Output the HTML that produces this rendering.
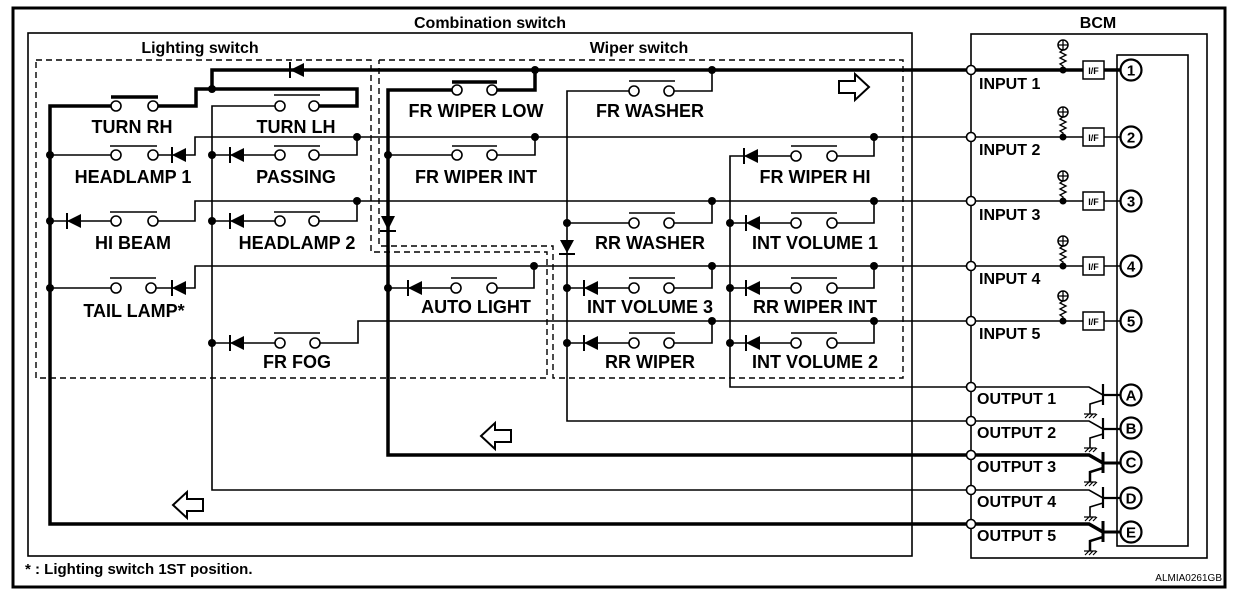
<!DOCTYPE html>
<html><head><meta charset="utf-8"><style>
html,body{margin:0;padding:0;background:#fff;}
svg{display:block;}
text{font-family:"Liberation Sans",Arial,sans-serif;fill:#000;}
.l{font-size:18px;font-weight:bold;text-anchor:middle;}
.io{font-size:16px;font-weight:bold;}
.tk{stroke:#000;stroke-width:3.5;fill:none;}
.tn{stroke:#000;stroke-width:1.6;fill:none;}
.ds{stroke:#000;stroke-width:1.4;fill:none;stroke-dasharray:6,4;}
.c{fill:#fff;stroke:#000;stroke-width:1.6;}
.d{fill:#000;}
</style></head><body>
<svg width="1248" height="600" viewBox="0 0 1248 600" xmlns="http://www.w3.org/2000/svg">
<rect x="13" y="8" width="1212" height="579" fill="none" stroke="#000" stroke-width="3"/>
<rect x="28" y="33" width="884" height="523" class="tn"/>
<rect x="971" y="34" width="236" height="524" class="tn"/>
<rect x="1117" y="55" width="71" height="491" class="tn"/>
<text x="490" y="28" style="font-size:16px;font-weight:bold" text-anchor="middle">Combination switch</text>
<text x="1098" y="28" style="font-size:16px;font-weight:bold" text-anchor="middle">BCM</text>
<text x="200" y="53" style="font-size:16px;font-weight:bold" text-anchor="middle">Lighting switch</text>
<text x="639" y="53" style="font-size:16px;font-weight:bold" text-anchor="middle">Wiper switch</text>
<!-- dashed boxes -->
<polyline class="ds" points="36,60 371,60 371,252 547,252 547,378 36,378 36,60"/>
<polyline class="ds" points="379,60 903,60 903,378 553,378 553,246 379,246 379,60"/>

<!-- thick wires -->
<polyline class="tk" points="971,70 212,70 212,89"/>
<polyline class="tk" points="212,89 357,89 357,106 319,106"/>
<polyline class="tk" points="212,89 196,89 196,106 158,106"/>
<polyline class="tk" points="111,106 50,106 50,524 971,524"/>
<polyline class="tk" points="535,70 535,90 497,90"/>
<polyline class="tk" points="452,90 388,90 388,455 971,455"/>
<!-- thin wires -->
<polyline class="tn" points="275,106 212,106 212,490 971,490"/>
<polyline class="tn" points="971,137 195,137 195,155 158,155"/>
<polyline class="tn" points="111,155 50,155"/>
<polyline class="tn" points="357,137 357,155 319,155"/>
<polyline class="tn" points="275,155 212,155"/>
<polyline class="tn" points="535,137 535,155 497,155"/>
<polyline class="tn" points="452,155 388,155"/>
<polyline class="tn" points="874,137 874,156 837,156"/>
<polyline class="tn" points="791,156 730,156 730,387 971,387"/>
<polyline class="tn" points="971,201 195,201 195,221 158,221"/>
<polyline class="tn" points="111,221 50,221"/>
<polyline class="tn" points="357,201 357,221 319,221"/>
<polyline class="tn" points="275,221 212,221"/>
<polyline class="tn" points="712,201 712,223 674,223"/>
<polyline class="tn" points="629,223 567,223"/>
<polyline class="tn" points="874,201 874,223 837,223"/>
<polyline class="tn" points="791,223 730,223"/>
<polyline class="tn" points="712,70 712,91 674,91"/>
<polyline class="tn" points="629,91 567,91 567,421 971,421"/>
<polyline class="tn" points="971,266 195,266 195,288 156,288"/>
<polyline class="tn" points="111,288 50,288"/>
<polyline class="tn" points="534,266 534,288 497,288"/>
<polyline class="tn" points="451,288 388,288"/>
<polyline class="tn" points="712,266 712,288 674,288"/>
<polyline class="tn" points="629,288 567,288"/>
<polyline class="tn" points="874,266 874,288 837,288"/>
<polyline class="tn" points="791,288 730,288"/>
<polyline class="tn" points="971,321 358,321 358,343 320,343"/>
<polyline class="tn" points="275,343 212,343"/>
<polyline class="tn" points="712,321 712,343 674,343"/>
<polyline class="tn" points="629,343 567,343"/>
<polyline class="tn" points="874,321 874,343 837,343"/>
<polyline class="tn" points="791,343 730,343"/>

<!-- switches -->
<g class="c">
<circle cx="116" cy="106" r="5"/><circle cx="153" cy="106" r="5"/>
<circle cx="280" cy="106" r="5"/><circle cx="314" cy="106" r="5"/>
<circle cx="116" cy="155" r="5"/><circle cx="153" cy="155" r="5"/>
<circle cx="280" cy="155" r="5"/><circle cx="314" cy="155" r="5"/>
<circle cx="116" cy="221" r="5"/><circle cx="153" cy="221" r="5"/>
<circle cx="280" cy="221" r="5"/><circle cx="314" cy="221" r="5"/>
<circle cx="116" cy="288" r="5"/><circle cx="151" cy="288" r="5"/>
<circle cx="280" cy="343" r="5"/><circle cx="315" cy="343" r="5"/>
<circle cx="457" cy="90" r="5"/><circle cx="492" cy="90" r="5"/>
<circle cx="457" cy="155" r="5"/><circle cx="492" cy="155" r="5"/>
<circle cx="456" cy="288" r="5"/><circle cx="492" cy="288" r="5"/>
<circle cx="634" cy="91" r="5"/><circle cx="669" cy="91" r="5"/>
<circle cx="634" cy="223" r="5"/><circle cx="669" cy="223" r="5"/>
<circle cx="634" cy="288" r="5"/><circle cx="669" cy="288" r="5"/>
<circle cx="634" cy="343" r="5"/><circle cx="669" cy="343" r="5"/>
<circle cx="796" cy="156" r="5"/><circle cx="832" cy="156" r="5"/>
<circle cx="796" cy="223" r="5"/><circle cx="832" cy="223" r="5"/>
<circle cx="796" cy="288" r="5"/><circle cx="832" cy="288" r="5"/>
<circle cx="796" cy="343" r="5"/><circle cx="832" cy="343" r="5"/>
</g>
<g class="tn">
<path d="M111,97H158" style="stroke-width:3.5"/>
<path d="M452,82H497" style="stroke-width:3.5"/>
<path d="M274,95H320M110,146H157M274,146H320M110,212H157M274,212H320M110,278H156M274,333H320M452,146H497M451,278H497M629,81H675M629,213H675M629,278H675M629,333H675M791,146H837M791,213H837M791,278H837M791,333H837"/>
</g>

<!-- diodes (pointing left) -->
<g class="d">
<path d="M290,70L304,63V77Z"/><path d="M172,155L186,148V162Z"/><path d="M230,155L244,148V162Z"/>
<path d="M67,221L81,214V228Z"/><path d="M230,221L244,214V228Z"/><path d="M172,288L186,281V295Z"/>
<path d="M230,343L244,336V350Z"/><path d="M408,288L422,281V295Z"/><path d="M584,288L598,281V295Z"/>
<path d="M584,343L598,336V350Z"/><path d="M744,156L758,149V163Z"/><path d="M746,223L760,216V230Z"/>
<path d="M746,288L760,281V295Z"/><path d="M746,343L760,336V350Z"/>
<!-- down diodes -->
<path d="M381,216H395L388,230Z"/><path d="M560,240H574L567,253Z"/>
</g>
<g class="tn" style="stroke-width:2">
<path d="M290,62V78M172,147V163M230,147V163M67,213V229M230,213V229M172,280V296M230,335V351M408,280V296M584,280V296M584,335V351M744,148V164M746,215V231M746,280V296M746,335V351M380,231H396M559,254H575"/>
</g>

<!-- dots -->
<g class="d">
<circle cx="212" cy="89" r="4"/><circle cx="535" cy="70" r="4"/><circle cx="712" cy="70" r="4"/>
<circle cx="357" cy="137" r="4"/><circle cx="535" cy="137" r="4"/><circle cx="874" cy="137" r="4"/>
<circle cx="50" cy="155" r="4"/><circle cx="212" cy="155" r="4"/><circle cx="388" cy="155" r="4"/>
<circle cx="357" cy="201" r="4"/><circle cx="712" cy="201" r="4"/><circle cx="874" cy="201" r="4"/>
<circle cx="50" cy="221" r="4"/><circle cx="212" cy="221" r="4"/><circle cx="567" cy="223" r="4"/><circle cx="730" cy="223" r="4"/>
<circle cx="534" cy="266" r="4"/><circle cx="712" cy="266" r="4"/><circle cx="874" cy="266" r="4"/>
<circle cx="50" cy="288" r="4"/><circle cx="388" cy="288" r="4"/><circle cx="567" cy="288" r="4"/><circle cx="730" cy="288" r="4"/>
<circle cx="712" cy="321" r="4"/><circle cx="874" cy="321" r="4"/>
<circle cx="212" cy="343" r="4"/><circle cx="567" cy="343" r="4"/><circle cx="730" cy="343" r="4"/>
</g>

<!-- labels -->
<text class="l" x="132" y="133">TURN RH</text>
<text class="l" x="296" y="133">TURN LH</text>
<text class="l" x="133" y="183">HEADLAMP 1</text>
<text class="l" x="296" y="183">PASSING</text>
<text class="l" x="133" y="249">HI BEAM</text>
<text class="l" x="297" y="249">HEADLAMP 2</text>
<text class="l" x="134" y="317">TAIL LAMP*</text>
<text class="l" x="297" y="368">FR FOG</text>
<text class="l" x="476" y="117">FR WIPER LOW</text>
<text class="l" x="650" y="117">FR WASHER</text>
<text class="l" x="476" y="183">FR WIPER INT</text>
<text class="l" x="815" y="183">FR WIPER HI</text>
<text class="l" x="650" y="249">RR WASHER</text>
<text class="l" x="815" y="249">INT VOLUME 1</text>
<text class="l" x="476" y="313">AUTO LIGHT</text>
<text class="l" x="650" y="313">INT VOLUME 3</text>
<text class="l" x="815" y="313">RR WIPER INT</text>
<text class="l" x="650" y="368">RR WIPER</text>
<text class="l" x="815" y="368">INT VOLUME 2</text>

<!-- flow arrows -->
<g fill="#fff" stroke="#000" stroke-width="2">
<polygon points="839,81 855,81 855,74 869,87 855,100 855,93 839,93"/>
<polygon points="511,430 495,430 495,423 481,436 495,449 495,442 511,442"/>
<polygon points="203,499 187,499 187,492 173,505 187,518 187,511 203,511"/>
</g>

<!-- BCM inputs -->
<g>
<polyline class="tk" points="971,70 1122,70"/>
<polyline class="tn" points="971,137 1122,137"/>
<polyline class="tn" points="971,201 1122,201"/>
<polyline class="tn" points="971,266 1122,266"/>
<polyline class="tn" points="971,321 1122,321"/>
</g>
<g class="c">
<circle cx="971" cy="70" r="4.5"/><circle cx="971" cy="137" r="4.5"/><circle cx="971" cy="201" r="4.5"/>
<circle cx="971" cy="266" r="4.5"/><circle cx="971" cy="321" r="4.5"/>
<circle cx="971" cy="387" r="4.5"/><circle cx="971" cy="421" r="4.5"/><circle cx="971" cy="455" r="4.5"/>
<circle cx="971" cy="490" r="4.5"/><circle cx="971" cy="524" r="4.5"/>
</g>
<g id="pu">
<circle cx="1063" cy="70" r="3.5" class="d"/>
<polyline class="tn" style="stroke-width:1.3" points="1063,70 1063,66 1060,64 1066,61 1060,58 1066,55 1060,52 1063,50 1063,49"/>
<circle cx="1063" cy="45" r="5" fill="#fff" stroke="#000" stroke-width="1.5"/>
<path d="M1058,45H1068M1063,40V50" stroke="#000" stroke-width="1.3"/>
<rect x="1083" y="61" width="21" height="18" fill="#fff" stroke="#000" stroke-width="1.5"/>
<text x="1093.5" y="74" style="font-size:9px;font-weight:bold" text-anchor="middle">I/F</text>
</g>
<use href="#pu" y="67"/><use href="#pu" y="131"/><use href="#pu" y="196"/><use href="#pu" y="251"/>
<g fill="#fff" stroke="#000" stroke-width="2.2">
<circle cx="1131" cy="70" r="10.5"/><circle cx="1131" cy="137" r="10.5"/><circle cx="1131" cy="201" r="10.5"/>
<circle cx="1131" cy="266" r="10.5"/><circle cx="1131" cy="321" r="10.5"/>
<circle cx="1131" cy="395" r="10.5"/><circle cx="1131" cy="428" r="10.5"/><circle cx="1131" cy="462" r="10.5"/>
<circle cx="1131" cy="498" r="10.5"/><circle cx="1131" cy="532" r="10.5"/>
</g>
<g style="font-size:15px;font-weight:bold" text-anchor="middle">
<text x="1131" y="75.5">1</text><text x="1131" y="142.5">2</text><text x="1131" y="206.5">3</text>
<text x="1131" y="271.5">4</text><text x="1131" y="326.5">5</text>
<text x="1131" y="400.5">A</text><text x="1131" y="433.5">B</text><text x="1131" y="467.5">C</text>
<text x="1131" y="503.5">D</text><text x="1131" y="537.5">E</text>
</g>
<g class="io">
<text x="979" y="89">INPUT 1</text><text x="979" y="155">INPUT 2</text><text x="979" y="220">INPUT 3</text>
<text x="979" y="284">INPUT 4</text><text x="979" y="339">INPUT 5</text>
<text x="977" y="404">OUTPUT 1</text><text x="977" y="438">OUTPUT 2</text><text x="977" y="472">OUTPUT 3</text>
<text x="977" y="507">OUTPUT 4</text><text x="977" y="541">OUTPUT 5</text>
</g>
<!-- transistors -->
<g id="tr">
<polyline class="tn" points="975,387 1089,387 1103,395"/>
<path d="M1103,384V405M1103,395H1121" stroke="#000" stroke-width="2.2"/>
<polyline class="tn" points="1103,400 1090,404 1090,414"/>
<path d="M1084,414H1096M1085,418L1089,414M1089,418L1093,414M1093,418L1097,414" stroke="#000" stroke-width="1.2"/>
</g>
<use href="#tr" y="34"/><use href="#tr" y="103"/>
<g>
<polyline class="tk" points="975,455 1089,455 1103,463"/>
<path d="M1103,452V473M1103,463H1121" stroke="#000" stroke-width="3"/>
<polyline class="tn" style="stroke-width:2.5" points="1103,468 1090,472 1090,482"/>
<path d="M1084,482H1096M1085,486L1089,482M1089,486L1093,482M1093,486L1097,482" stroke="#000" stroke-width="1.2"/>
</g>
<g>
<polyline class="tk" points="975,524 1089,524 1103,532"/>
<path d="M1103,521V542M1103,532H1121" stroke="#000" stroke-width="3"/>
<polyline class="tn" style="stroke-width:2.5" points="1103,537 1090,541 1090,551"/>
<path d="M1084,551H1096M1085,555L1089,551M1089,555L1093,551M1093,555L1097,551" stroke="#000" stroke-width="1.2"/>
</g>

<text x="25" y="574" style="font-size:15px;font-weight:bold">* : Lighting switch 1ST position.</text>
<text x="1222" y="581" style="font-size:10px" text-anchor="end">ALMIA0261GB</text>
</svg>
</body></html>
